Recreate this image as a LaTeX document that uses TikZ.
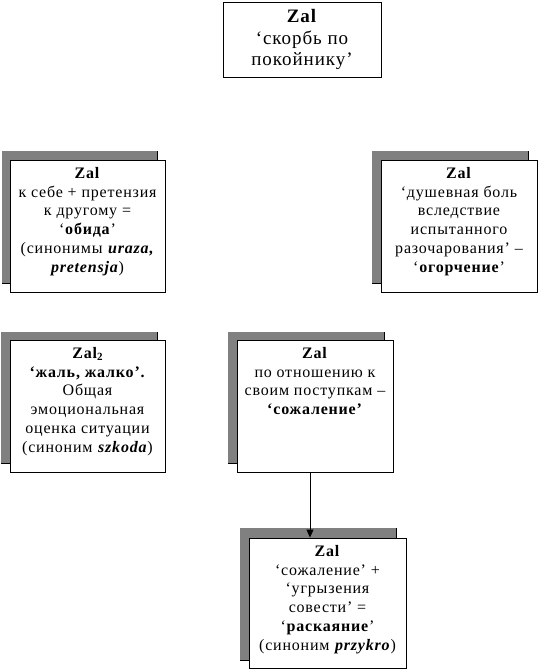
\documentclass[tikz,border=0pt]{standalone}
\usepackage{fontspec}
\setmainfont[LetterSpace=5]{Liberation Serif}
\usetikzlibrary{arrows.meta}
\tikzset{
  x=1pt, y=-1pt,
  boxst/.style={draw=black, line width=0.9pt, fill=white, inner sep=0pt},
  shadowst/.style={fill=black!50},
  shadowedge/.style={draw=black, line width=0.9pt},
  txt/.style={align=center, inner sep=0pt, font=\fontsize{16}{18.8}\selectfont},
  toptxt/.style={align=center, inner sep=0pt, font=\fontsize{19}{21.5}\selectfont},
  conn/.style={draw=black, line width=0.9pt, -{Triangle[length=8pt,width=7pt]}},
}
\newcommand\mkshadow[4]{%
  \fill[shadowst] (#1,#2) rectangle (#3,#4);
  \draw[shadowedge] (#3,#2) -- (#3,#4) -- (#1,#4);}
\begin{document}
\begin{tikzpicture}
\useasboundingbox (0,0) rectangle (538,670);
% top box
\node[boxst, minimum width=158pt, minimum height=75pt] (top) at (302,39.5) {};
\node[toptxt] (toptext) at (top.center) {\textbf{Zal}\\‘скорбь по\\покойнику’};
% left upper
\mkshadow{2}{151}{157}{283}
\node[boxst, minimum width=155pt, minimum height=132pt] (lu) at (87.5,226) {};
\node[txt, anchor=north] (lutext) at ([yshift=-7.5pt]lu.north)
  {\textbf{Zal}\\к себе + претензия\\к другому =\\‘\textbf{обида}’\\(синонимы \textbf{\textit{uraza,}}\\\textbf{\textit{pretensja}})};
% right upper
\mkshadow{372}{151}{528}{283}
\node[boxst, minimum width=156pt, minimum height=132pt] (ru) at (459,226) {};
\node[txt, anchor=north] (rutext) at ([yshift=-7.5pt]ru.north)
  {\textbf{Zal}\\‘душевная боль\\вследствие\\испытанного\\разочарования’ –\\‘\textbf{огорчение}’};
% left lower
\mkshadow{1}{332}{157}{463}
\node[boxst, minimum width=155pt, minimum height=132pt] (ll) at (87.5,406) {};
\node[txt, anchor=north] (lltext) at ([yshift=-7.5pt]ll.north)
  {\textbf{Zal\raisebox{-0.35ex}{\fontsize{11}{11}\selectfont 2}}\\\textbf{‘жаль, жалко’.}\\Общая\\эмоциональная\\оценка ситуации\\(синоним \textbf{\textit{szkoda}})};
% middle
\mkshadow{228}{332}{384}{463}
\node[boxst, minimum width=156pt, minimum height=132pt] (mid) at (315,406) {};
\node[txt, anchor=north] (midtext) at ([yshift=-7.5pt]mid.north)
  {\textbf{Zal}\\по отношению к\\своим поступкам –\\\textbf{‘сожаление’}};
% bottom
\mkshadow{240}{528}{396}{660}
\node[boxst, minimum width=157pt, minimum height=130pt] (bot) at (327.5,603) {};
\node[txt, anchor=north] (bottext) at ([yshift=-7.5pt]bot.north)
  {\textbf{Zal}\\‘сожаление’ +\\‘угрызения\\совести’ =\\‘\textbf{раскаяние}’\\(синоним \textbf{\textit{przykro}})};
% connector
\draw[conn] ([xshift=-5pt]mid.south) -- ([xshift=-5pt]mid.south |- bot.north);
\end{tikzpicture}
\end{document}
